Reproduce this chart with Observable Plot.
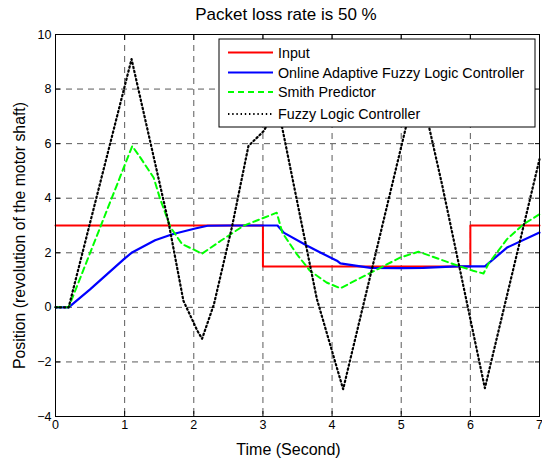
<!DOCTYPE html>
<html>
<head>
<meta charset="utf-8">
<script src="https://cdn.jsdelivr.net/npm/d3@7"></script>
<script src="https://cdn.jsdelivr.net/npm/@observablehq/plot@0.6"></script>
<style>
  body { margin: 0; background: #fff; font-family: Arial, "Liberation Sans", sans-serif; }
  #title { height: 26px; line-height: 30px; text-align: center; font-size: 17px; color: #000; width: 542px; padding-left: 30px; box-sizing: border-box; }
</style>
</head>
<body>
<div id="title">Packet loss rate is 50 %</div>
<div id="chart"></div>
<script>
// ---- data ----
const xTicks = [0, 1, 2, 3, 4, 5, 6, 7];
const yTicks = [-4, -2, 0, 2, 4, 6, 8, 10];

const inputT = [0, 3, 6, 7];
const inputV = [3, 1.5, 3, 3];

const oaflcT = [0, 0.19, 0.5, 0.99, 1.1, 1.44, 1.69, 2.02, 2.2, 2.5, 3.0, 3.21, 3.3, 3.64, 3.83, 4.07, 4.12, 4.36, 4.56, 5.0, 5.32, 5.8, 6.21, 6.53, 7.0];
const oaflcV = [0, 0, 0.66, 1.77, 2.0, 2.46, 2.68, 2.89, 2.99, 3.0, 3.0, 3.0, 2.74, 2.26, 2.01, 1.71, 1.61, 1.52, 1.45, 1.44, 1.45, 1.5, 1.5, 2.19, 2.74];

const smithT = [0, 0.19, 1.11, 1.23, 1.42, 1.51, 1.66, 1.83, 2.12, 2.39, 2.72, 2.96, 3.2, 3.28, 3.49, 3.68, 3.92, 4.12, 4.99, 5.25, 5.75, 6.04, 6.19, 6.26, 6.53, 6.77, 7.0];
const smithV = [0, 0, 5.91, 5.48, 4.75, 4.0, 2.95, 2.32, 1.97, 2.44, 2.99, 3.23, 3.47, 2.74, 1.95, 1.34, 0.91, 0.70, 1.83, 2.04, 1.59, 1.34, 1.24, 1.59, 2.5, 3.05, 3.41];

const flcT = [0, 0.19, 1.1, 1.64, 1.85, 2.05, 2.12, 2.29, 2.55, 2.79, 3.01, 3.18, 3.28, 3.78, 4.16, 5.06, 5.24, 5.41, 5.59, 6.21, 7.0];
const flcV = [0, 0, 9.1, 3.05, 0.24, -0.85, -1.15, 0.1, 2.92, 5.91, 6.46, 7.2, 6.57, 0.31, -3.0, 6.52, 8.5, 6.53, 4.51, -2.96, 5.43];

const seriesNames = ["Input", "Online Adaptive Fuzzy Logic Controller", "Smith Predictor", "Fuzzy Logic Controller"];
const seriesColors = ["#ff0000", "#0000ff", "#00ff00", "#000000"];
const seriesDash = [null, null, "6,4", "1.4,2.8"];

const toRows = (T, V) => T.map((t, i) => ({t, v: V[i]}));
const input = toRows(inputT, inputV);
const oaflc = toRows(oaflcT, oaflcV);
const smith = toRows(smithT, smithV);
const flc = toRows(flcT, flcV);

const gridStyle = {stroke: "#000", strokeOpacity: 0.65, strokeDasharray: "6,5", strokeWidth: 1};

const plot = Plot.plot({
  width: 542,
  height: 436,
  marginTop: 8,
  marginBottom: 46,
  marginLeft: 55,
  marginRight: 3,
  style: {fontFamily: "Arial, 'Liberation Sans', sans-serif", fontSize: "12px", color: "#000", background: "#fff"},
  x: {domain: [0, 7]},
  y: {domain: [-4, 10]},
  marks: [
    Plot.gridX(xTicks, gridStyle),
    Plot.gridY(yTicks, gridStyle),
    Plot.line(input, {x: "t", y: "v", stroke: seriesColors[0], strokeWidth: 2, curve: "step-after"}),
    Plot.line(oaflc, {x: "t", y: "v", stroke: seriesColors[1], strokeWidth: 2.2}),
    Plot.line(smith, {x: "t", y: "v", stroke: seriesColors[2], strokeWidth: 2, strokeDasharray: seriesDash[2]}),
    Plot.line(flc, {x: "t", y: "v", stroke: seriesColors[3], strokeWidth: 2.2, strokeDasharray: seriesDash[3]}),
    Plot.frame({stroke: "#000", strokeWidth: 1}),
    // inward ticks on all four sides
    Plot.axisX(xTicks, {anchor: "bottom", tickSize: -5, text: null, label: null, stroke: "#000"}),
    Plot.axisX(xTicks, {anchor: "top", tickSize: -5, text: null, label: null, stroke: "#000"}),
    Plot.axisY(yTicks, {anchor: "left", tickSize: -5, text: null, label: null, stroke: "#000"}),
    Plot.axisY(yTicks, {anchor: "right", tickSize: -5, text: null, label: null, stroke: "#000"}),
    // labels
    Plot.axisX(xTicks, {anchor: "bottom", tickSize: 0, tickPadding: 4, fontSize: 12.5, label: "Time (Second)", labelAnchor: "center", labelOffset: 38, labelArrow: "none"}),
    Plot.axisY(yTicks, {anchor: "left", tickSize: 0, tickPadding: 4, fontSize: 12.5, label: "Position (revolution of the motor shaft)", labelAnchor: "center", labelOffset: 42, labelArrow: "none"})
  ]
});

document.getElementById("chart").appendChild(plot);

// axis labels: larger, and offset as in the reference
d3.select(plot).selectAll("g[aria-label='x-axis label'] text").attr("font-size", 16).attr("dx", -9);
d3.select(plot).selectAll("g[aria-label='y-axis label'] text").attr("font-size", 15.8).attr("dx", -10);

// legend inside the plot area (white box)
const svg = d3.select(plot);
const lg = svg.append("g").attr("transform", "translate(219,13)");
lg.append("rect").attr("x", 0).attr("y", 0).attr("width", 316).attr("height", 88)
  .attr("fill", "#fff").attr("stroke", "#000").attr("stroke-width", 1);
const rowY = [13.5, 33.5, 53, 75];
seriesNames.forEach((name, i) => {
  lg.append("line").attr("x1", 9).attr("x2", 54).attr("y1", rowY[i]).attr("y2", rowY[i])
    .attr("stroke", seriesColors[i]).attr("stroke-width", 2)
    .attr("stroke-dasharray", seriesDash[i]);
  lg.append("text").attr("x", 59).attr("y", rowY[i]).attr("dy", "0.35em")
    .attr("text-anchor", "start")
    .attr("font-size", 14.3).attr("fill", "#000").text(name);
});
</script>
</body>
</html>
